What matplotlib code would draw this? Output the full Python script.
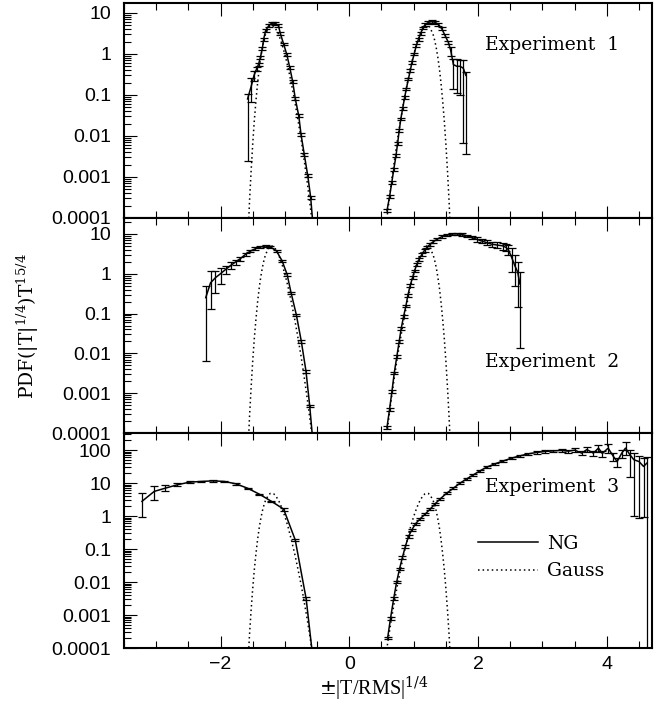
import matplotlib
matplotlib.use("Agg")
import matplotlib.pyplot as plt
import numpy as np
from matplotlib.ticker import MultipleLocator, LogLocator, FuncFormatter, NullFormatter

plt.rcParams['mathtext.fontset'] = 'dejavuserif'

# Gaussian reference curve (one side, mirrored for negative values)
gauss_u = [0.55, 0.60, 0.65, 0.70, 0.75, 0.80, 0.85, 0.90, 0.95, 1.00, 1.05, 1.10,
           1.15, 1.175, 1.20, 1.225, 1.25, 1.30, 1.325, 1.35, 1.375, 1.40, 1.425,
           1.45, 1.475, 1.50, 1.525, 1.55, 1.60]
gauss_pdf = [3.4e-5, 1.6e-4, 6.7e-4, 2.5e-3, 8.6e-3, 0.026, 0.075, 0.19, 0.46, 0.97, 1.83, 3.04,
             4.28, 4.73, 4.95, 4.87, 4.50, 3.04, 2.19, 1.43, 0.83, 0.43, 0.19,
             0.072, 0.024, 6.4e-3, 1.4e-3, 2.5e-4, 3.5e-6]

# Experiment 1
exp1_neg_x = [-1.58, -1.52, -1.48, -1.44, -1.41, -1.38, -1.35, -1.33, -1.30, -1.25, -1.20, -1.15,
              -1.10, -1.07, -1.02, -0.97, -0.925, -0.88, -0.84, -0.785, -0.75, -0.70, -0.645, -0.60, -0.565]
exp1_neg_y = [0.08, 0.17, 0.30, 0.43, 0.56, 0.83, 1.38, 2.3, 3.7, 4.9, 5.7, 5.6,
              4.9, 3.1, 1.75, 0.96, 0.47, 0.215, 0.083, 0.031, 0.011, 0.0036, 0.00107, 0.00032, 0.00007]
exp1_neg_lo = [0.97, 0.6, 0.25, 0.12, 0.08, 0.08, 0.08, 0.08, 0.08, 0.08, 0.08, 0.08,
               0.08, 0.08, 0.08, 0.08, 0.08, 0.08, 0.08, 0.08, 0.08, 0.08, 0.08, 0.08, 0.08]
exp1_neg_hi = [0.3, 0.5, 0.25, 0.12, 0.08, 0.08, 0.08, 0.08, 0.08, 0.08, 0.08, 0.08,
               0.08, 0.08, 0.08, 0.08, 0.08, 0.08, 0.08, 0.08, 0.08, 0.08, 0.08, 0.08, 0.08]

exp1_pos_x = [0.585, 0.625, 0.660, 0.690, 0.725, 0.750, 0.775, 0.800, 0.828, 0.858, 0.885, 0.918,
              0.946, 0.974, 1.008, 1.040, 1.075, 1.110, 1.142, 1.178, 1.230, 1.282, 1.333, 1.385,
              1.437, 1.488, 1.540, 1.576, 1.617, 1.670, 1.720, 1.770, 1.810]
exp1_pos_y = [1.5e-4, 3.3e-4, 7.4e-4, 1.5e-3, 3.3e-3, 6.5e-3, 0.0135, 0.026, 0.046, 0.085, 0.14, 0.245,
              0.39, 0.63, 1.0, 1.6, 2.3, 3.2, 4.3, 5.2, 5.9, 6.2, 5.9, 5.2,
              4.1, 2.8, 1.9, 1.2, 0.55, 0.5, 0.5, 0.45, 0.3]
exp1_pos_lo = [0.08] * 27 + [0.25, 0.75, 0.78, 0.8, 0.985, 0.988]
exp1_pos_hi = [0.08] * 27 + [0.25, 0.36, 0.5, 0.44, 0.55, 0.2]

# Experiment 2
exp2_neg_x = [-2.23, -2.155, -2.08, -2.00, -1.92, -1.845, -1.767, -1.69, -1.612, -1.535, -1.457, -1.38,
              -1.30, -1.225, -1.13, -1.044, -0.966, -0.904, -0.822, -0.744, -0.672, -0.615, -0.575]
exp2_neg_y = [0.25, 0.59, 0.79, 1.0, 1.28, 1.6, 1.97, 2.4, 3.05, 3.7, 4.25, 4.7,
              4.95, 4.7, 3.7, 2.1, 0.96, 0.33, 0.092, 0.0195, 0.0035, 4.8e-4, 9e-5]
exp2_neg_lo = [0.974, 0.78, 0.58, 0.45, 0.25, 0.2, 0.15, 0.12] + [0.08] * 15
exp2_neg_hi = [0.96, 0.98, 0.52, 0.4, 0.25, 0.2, 0.15, 0.12] + [0.08] * 15

exp2_pos_x = [0.584, 0.625, 0.662, 0.698, 0.739, 0.775, 0.806, 0.842, 0.879, 0.910, 0.946, 0.982,
              1.013, 1.049, 1.085, 1.127, 1.168, 1.214, 1.256, 1.307, 1.369, 1.437, 1.514, 1.592,
              1.670, 1.747, 1.825, 1.902, 1.980, 2.057, 2.135, 2.212, 2.290, 2.380, 2.430, 2.470,
              2.520, 2.570, 2.615, 2.650]
exp2_pos_y = [1.35e-4, 3.9e-4, 1.1e-3, 3.2e-3, 8.5e-3, 0.020, 0.042, 0.083, 0.154, 0.29, 0.51, 0.79,
              1.17, 1.72, 2.3, 3.05, 3.85, 4.7, 5.5, 6.4, 7.4, 8.5, 9.4, 9.9,
              10.0, 9.7, 8.9, 8.0, 7.3, 6.6, 6.0, 5.5, 5.25, 5.0, 4.6, 4.0,
              2.6, 1.6, 1.1, 0.55]
exp2_pos_lo = [0.08] * 28 + [0.12, 0.12, 0.15, 0.15, 0.18, 0.2, 0.17, 0.25, 0.57, 0.7, 0.87, 0.975]
exp2_pos_hi = [0.08] * 28 + [0.12, 0.12, 0.15, 0.15, 0.18, 0.2, 0.22, 0.3, 0.73, 0.88, 0.82, 0.98]

# Experiment 3
exp3_neg_x = [-3.22, -3.03, -2.86, -2.67, -2.48, -2.30, -2.12, -1.94, -1.76, -1.58, -1.395, -1.21,
              -1.02, -0.84, -0.67, -0.56]
exp3_neg_y = [2.8, 5.6, 7.0, 8.9, 10.7, 11.2, 11.7, 11.2, 9.5, 7.0, 4.6, 2.8,
              1.63, 0.19, 0.0031, 4e-5]
exp3_neg_lo = [0.67, 0.45, 0.17, 0.1, 0.07, 0.05, 0.05, 0.05, 0.05, 0.05, 0.05, 0.05, 0.1, 0.1, 0.1, 0.1]
exp3_neg_hi = [0.79, 0.48, 0.21, 0.1, 0.07, 0.05, 0.05, 0.05, 0.05, 0.05, 0.05, 0.05, 0.1, 0.1, 0.1, 0.1]

exp3_pos_x = [0.595, 0.640, 0.690, 0.735, 0.780, 0.825, 0.870, 0.920, 0.970, 1.030, 1.100, 1.178,
              1.256, 1.333, 1.410, 1.515, 1.617, 1.720, 1.825, 1.927, 2.030, 2.135, 2.264, 2.390,
              2.520, 2.650, 2.780, 2.910, 3.040, 3.170, 3.300, 3.400, 3.500, 3.610, 3.690, 3.790,
              3.870, 3.930, 4.020, 4.100, 4.160, 4.230, 4.290, 4.360, 4.420, 4.500, 4.570, 4.620]
exp3_pos_y = [2.0e-4, 7.9e-4, 3.2e-3, 0.010, 0.025, 0.056, 0.12, 0.24, 0.38, 0.59, 0.83, 1.15,
              1.63, 2.36, 3.3, 5.0, 7.0, 10, 13.5, 17.8, 23.6, 30.5, 38.5, 47,
              57, 67, 77, 85, 91, 95, 98, 93, 100, 81, 104, 81,
              115, 79, 115, 65, 45, 80, 115, 72, 51, 45, 32, 40]
exp3_pos_lo = [0.08] * 31 + [0.12, 0.15, 0.15, 0.18, 0.18, 0.25, 0.2, 0.3, 0.3, 0.3, 0.3,
                             0.37, 0.78, 0.98, 0.98, 0.97, 0.9999999]
exp3_pos_hi = [0.08] * 31 + [0.12, 0.15, 0.15, 0.18, 0.18, 0.25, 0.2, 0.3, 0.3, 0.3, 0.3,
                             0.58, 0.42, 0.59, 0.44, 0.78, 0.6]

panels = [
    ("Experiment  1", (1e-4, 17.5), [(exp1_neg_x, exp1_neg_y, exp1_neg_lo, exp1_neg_hi),
                                   (exp1_pos_x, exp1_pos_y, exp1_pos_lo, exp1_pos_hi)], (0.684, 0.805)),
    ("Experiment  2", (1e-4, 25), [(exp2_neg_x, exp2_neg_y, exp2_neg_lo, exp2_neg_hi),
                                 (exp2_pos_x, exp2_pos_y, exp2_pos_lo, exp2_pos_hi)], (0.684, 0.33)),
    ("Experiment  3", (1e-4, 330), [(exp3_neg_x, exp3_neg_y, exp3_neg_lo, exp3_neg_hi),
                                  (exp3_pos_x, exp3_pos_y, exp3_pos_lo, exp3_pos_hi)], (0.684, 0.749)),
]

fig = plt.figure(figsize=(6.7, 7.08), dpi=100)
axes = fig.subplots(3, 1, sharex=True, gridspec_kw=dict(hspace=0))
fig.subplots_adjust(left=0.185, right=0.973, top=0.9958, bottom=0.0847)

gu = np.array(gauss_u)
gp = np.array(gauss_pdf)

for ax, (label, ylim, series, tpos) in zip(axes, panels):
    ax.set_yscale('log')
    for sx, sy, slo, shi in series:
        sy = np.array(sy)
        yerr = [sy * np.array(slo), sy * np.array(shi)]
        ax.errorbar(sx, sy, yerr=yerr, fmt='-', color='k', lw=1.1, elinewidth=0.9,
                    capsize=2.6, capthick=0.9)
    ax.plot(gu, gp, color='k', lw=1.1, linestyle=(0, (1, 2.0)))
    ax.plot(-gu, gp, color='k', lw=1.1, linestyle=(0, (1, 2.0)))

    ax.set_xlim(-3.5, 4.7)
    ax.set_ylim(*ylim)
    ax.xaxis.set_major_locator(MultipleLocator(2))
    ax.xaxis.set_minor_locator(MultipleLocator(0.5))
    ax.yaxis.set_major_locator(LogLocator(base=10, numticks=20))
    ax.yaxis.set_minor_locator(LogLocator(base=10, subs=np.arange(2, 10), numticks=20))
    ax.yaxis.set_minor_formatter(NullFormatter())
    ax.yaxis.set_major_formatter(FuncFormatter(lambda v, p: '%g' % v))
    ax.tick_params(axis='x', which='both', direction='in', top=True, bottom=True, width=0.8, pad=6)
    ax.tick_params(axis='y', which='both', direction='in', left=True, right=False, width=0.8, pad=9)
    ax.tick_params(which='major', length=9)
    ax.tick_params(which='minor', length=5)
    for lab in ax.get_xticklabels() + ax.get_yticklabels():
        lab.set_fontfamily('Liberation Sans')
        lab.set_fontsize(14)
    for sp in ax.spines.values():
        sp.set_linewidth(1.5)
    ax.text(tpos[0], tpos[1], label, transform=ax.transAxes, family='DejaVu Serif',
            fontsize=13.5, va='center', ha='left')

# legend line samples for the last panel
ax = axes[2]
h1, = ax.plot([], [], color='k', lw=1.1)
h2, = ax.plot([], [], color='k', lw=1.1, linestyle=(0, (1, 2.0)))
ax.legend([h1, h2], ['NG', 'Gauss'], loc='upper left', bbox_to_anchor=(0.67, 0.527),
          frameon=False, borderpad=0, borderaxespad=0, handlelength=3.2, handletextpad=0.5,
          labelspacing=0.5, prop=dict(family='DejaVu Serif', size=13.5))

axes[2].set_xlabel(r'$\pm$|T/RMS|$^{1/4}$', family='Liberation Serif', fontsize=14.5)
axes[2].xaxis.set_label_coords(0.473, -0.125)
fig.text(0.042, 0.54, r'PDF(|T|$^{1/4}$)T$^{15/4}$', rotation=90, va='center', ha='center',
         family='DejaVu Serif', fontsize=13.5)

fig.savefig('out.png', dpi=100)
